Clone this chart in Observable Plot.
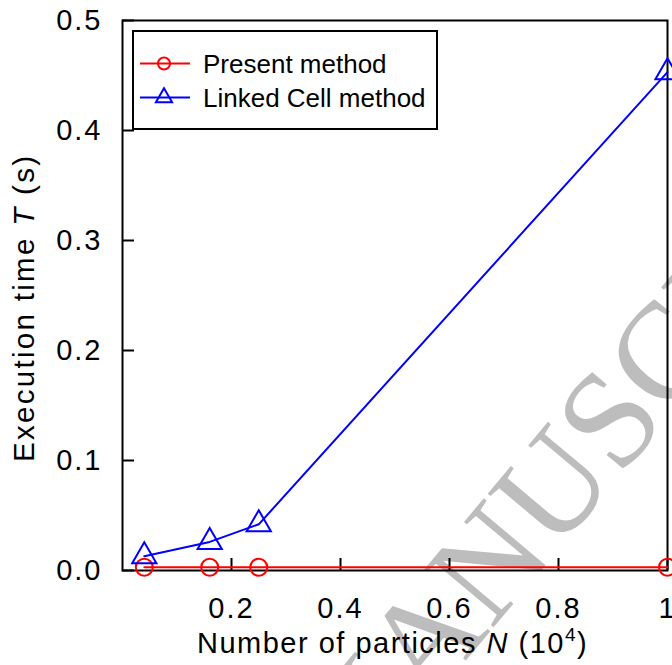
<!DOCTYPE html>
<html><head><meta charset="utf-8">
<script src="https://cdn.jsdelivr.net/npm/d3@7"></script>
<script src="https://cdn.jsdelivr.net/npm/@observablehq/plot@0.6"></script>
<style>
html,body{margin:0;padding:0;background:#fff;}
#wrap{position:relative;width:672px;height:665px;overflow:hidden;background:#fff;}
#wrap svg{position:absolute;left:0;top:0;}
</style></head><body>
<div id="wrap"></div>
<script>
// Data
const particlesN = [0.04, 0.16, 0.25, 1.0];          // N (10^4)
const presentT   = [0.003, 0.003, 0.003, 0.003];     // Present method, T (s)
const linkedT    = [0.013, 0.026, 0.042, 0.453];     // Linked Cell method, T (s)
const seriesNames  = ["Present method", "Linked Cell method"];
const seriesColors = ["#ff0000", "#0000ff"];
const seriesSymbols = ["circle", "triangle"];
const xTicks = [0.2, 0.4, 0.6, 0.8, 1];
const yTicks = [0, 0.1, 0.2, 0.3, 0.4, 0.5];

const rows = [];
particlesN.forEach((n, i) => {
  rows.push({N: n, T: presentT[i], s: seriesNames[0]});
  rows.push({N: n, T: linkedT[i], s: seriesNames[1]});
});
const present = rows.filter(d => d.s === seriesNames[0]);
const linked = rows.filter(d => d.s === seriesNames[1]);

const font = "'Liberation Sans', Arial, Helvetica, sans-serif";

const chart = Plot.plot({
  width: 672, height: 665,
  marginLeft: 122, marginRight: 5, marginTop: 20, marginBottom: 95,
  style: {fontFamily: font, fontSize: "29px", background: "transparent", color: "black", overflow: "visible"},
  x: {domain: [0, 1]},
  y: {domain: [0, 0.5]},
  color: {domain: seriesNames, range: seriesColors},
  symbol: {domain: seriesNames, range: seriesSymbols},
  marks: [
    Plot.axisX({ticks: xTicks, anchor: "bottom", tickSize: -12, tickPadding: 39, strokeWidth: 2,
      tickFormat: d => d === 1 ? "1" : d.toFixed(1), label: null, fill: "black"}),
    Plot.axisY({ticks: yTicks, anchor: "left", tickSize: -12, tickPadding: 32, strokeWidth: 2,
      tickFormat: d => d.toFixed(1), label: null, fill: "black"}),
    Plot.frame({stroke: "black", strokeWidth: 2}),
    Plot.line(present, {x: "N", y: "T", stroke: "s", strokeWidth: 2}),
    Plot.dot(present, {x: "N", y: "T", stroke: "s", symbol: "s", r: 8.5, strokeWidth: 2, fill: "none"}),
    Plot.line(linked, {x: "N", y: "T", stroke: "s", strokeWidth: 2}),
    Plot.dot(linked, {x: "N", y: "T", stroke: "s", symbol: "s", r: 9, strokeWidth: 2, fill: "none"})
  ]
});
document.getElementById("wrap").appendChild(chart);

const svg = d3.select(chart);
svg.selectAll("g[aria-label='x-axis tick label'] text, g[aria-label='y-axis tick label'] text").attr("letter-spacing", "2px");

// Watermark (behind everything)
svg.insert("text", ":first-child")
  .attr("transform", "translate(634,460) rotate(-50)")
  .attr("text-anchor", "middle")
  .attr("font-family", "'Liberation Serif', 'Times New Roman', serif")
  .attr("font-size", 138)
  .attr("fill", "#bdbdbd")
  .text("MANUSCRIPT");

// Axis labels with italic variable and superscript
const xl = svg.append("text")
  .attr("x", 197).attr("y", 653).attr("text-anchor", "start")
  .attr("font-family", font).attr("font-size", 29).attr("letter-spacing", "1.5px")
  .attr("fill", "black");
xl.append("tspan").text("Number of particles ");
xl.append("tspan").attr("font-style", "italic").text("N");
xl.append("tspan").text(" (10");
xl.append("tspan").attr("font-size", 19).attr("dy", -12).text("4");
xl.append("tspan").attr("dy", 12).text(")");

const yl = svg.append("text")
  .attr("transform", "translate(34,462) rotate(-90)").attr("text-anchor", "start")
  .attr("font-family", font).attr("font-size", 29.5).attr("letter-spacing", "2.3px")
  .attr("fill", "black");
yl.append("tspan").text("Execution time ");
yl.append("tspan").attr("font-style", "italic").text("T");
yl.append("tspan").text(" (s)");

// Legend box
const lg = svg.append("g").attr("class", "legend");
lg.append("rect").attr("x", 133).attr("y", 31).attr("width", 304).attr("height", 98)
  .attr("fill", "white").attr("stroke", "black").attr("stroke-width", 2);
const legendY = [63.5, 97.5];
seriesNames.forEach((name, i) => {
  const y = legendY[i];
  lg.append("line").attr("x1", 140).attr("x2", 190).attr("y1", y).attr("y2", y)
    .attr("stroke", seriesColors[i]).attr("stroke-width", 2);
  const sym = i === 0 ? d3.symbolCircle : d3.symbolTriangle;
  lg.append("path").attr("d", d3.symbol(sym, Math.PI * 6 * 6)())
    .attr("transform", `translate(164,${y})`)
    .attr("fill", "none").attr("stroke", seriesColors[i]).attr("stroke-width", 2);
  lg.append("text").attr("x", 203).attr("y", y + 9.5).attr("text-anchor", "start")
    .attr("font-family", font).attr("font-size", 26).attr("fill", "black").text(name);
});
</script>
</body></html>
